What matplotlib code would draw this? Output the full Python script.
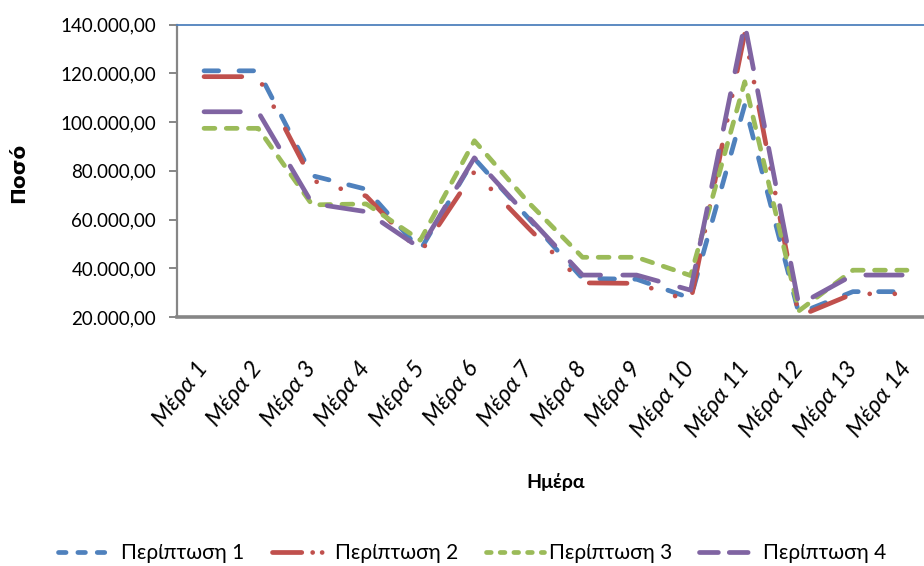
"""Daily amounts for four cases over a two-week period."""

import matplotlib

matplotlib.use("Agg")
import matplotlib.pyplot as plt
from matplotlib.lines import Line2D
from matplotlib.ticker import FixedLocator, FuncFormatter

plt.rcParams["font.family"] = ["Lato", "DejaVu Sans"]

DAYS = ["Μέρα 1", "Μέρα 2", "Μέρα 3", "Μέρα 4", "Μέρα 5", "Μέρα 6", "Μέρα 7",
        "Μέρα 8", "Μέρα 9", "Μέρα 10", "Μέρα 11", "Μέρα 12", "Μέρα 13", "Μέρα 14"]
CASE_1 = [121000, 121000, 78000, 72400, 47500, 85000, 60500,
          35800, 35500, 27700, 107000, 21500, 30400, 30400]
CASE_2 = [118600, 118600, 76000, 69600, 46400, 79600, 56500,
          34000, 33800, 26500, 136300, 20300, 29500, 29500]
CASE_3 = [97400, 97400, 66000, 66400, 51500, 92300, 67000,
          44500, 44500, 37000, 116500, 22500, 39200, 39200]
CASE_4 = [104200, 104200, 66600, 63200, 48200, 85300, 61000,
          37200, 37200, 31000, 140300, 25000, 37200, 37200]
LABELS = ["Περίπτωση 1", "Περίπτωση 2", "Περίπτωση 3", "Περίπτωση 4"]
Y_TICKS = [20000, 40000, 60000, 80000, 100000, 120000, 140000]

COLORS = ["#4F81BD", "#C0504D", "#9BBB59", "#8064A2"]
# dash, long dash dot dot, short dash, long dash (in line widths)
DASHES = [
    (3.1, 4.3),
    (8.0, 5.3, 0.01, 5.3, 0.01, 5.3),
    (2.3, 2.4),
    (7.7, 4.7),
]
# the legend samples are short, so they get a tighter version of each pattern
LEGEND_DASHES = [
    (1.6, 2.5),
    (6.2, 2.3, 0.01, 2.0, 0.01, 2.5),
    (1.0, 1.9),
    (4.0, 2.3),
]


def greek_number(v, _pos):
    s = f"{v:,.2f}"
    return s.replace(",", "X").replace(".", ",").replace("X", ".")


def main():
    W, H = 924, 566
    fig = plt.figure(figsize=(W / 100, H / 100), dpi=100)
    left, right, top, bottom = 177, 934, 24.5, 317
    ax = fig.add_axes([left / W, 1 - bottom / H, (right - left) / W, (bottom - top) / H])

    x = list(range(len(DAYS)))
    for series, color, dashes in zip([CASE_1, CASE_2, CASE_3, CASE_4], COLORS, DASHES):
        ax.plot(x, series, color=color, lw=3.4, dashes=dashes,
                dash_capstyle="round", solid_joinstyle="round", dash_joinstyle="round")

    ax.set_xlim(-0.5, len(DAYS) - 0.5)
    ax.set_ylim(20000, 140000)
    ax.yaxis.set_major_locator(FixedLocator(Y_TICKS))
    ax.yaxis.set_major_formatter(FuncFormatter(greek_number))
    ax.set_xticks(x)
    ax.set_xticklabels(DAYS, rotation=52, ha="right", va="center", rotation_mode="anchor",
                       fontstyle="italic", fontsize=17)
    ax.tick_params(axis="x", length=0, pad=34)
    ax.tick_params(axis="y", length=6, width=1.4, color="#868686", labelsize=13.5, pad=9)

    ax.spines["right"].set_visible(False)
    ax.spines["top"].set_color("#4F81BD")
    ax.spines["top"].set_linewidth(1.3)
    ax.spines["left"].set_color("#868686")
    ax.spines["left"].set_linewidth(1.6)
    ax.spines["bottom"].set_color("#868686")
    ax.spines["bottom"].set_linewidth(2.6)

    fig.text(18.5 / W, 1 - 173 / H, "Ποσό", rotation=90, ha="center", va="center",
             fontsize=14.5, fontweight="bold", family="DejaVu Sans")
    fig.text(556 / W, 1 - 482 / H, "Ημέρα", ha="center", va="center",
             fontsize=14, fontweight="bold")

    handles = [Line2D([], [], color=c, lw=3.4, dashes=d, dash_capstyle="round")
               for c, d in zip(COLORS, LEGEND_DASHES)]
    fig.legend(handles, LABELS, loc="center", bbox_to_anchor=(472 / W, 1 - 553 / H), ncol=4,
               frameon=False, fontsize=15, handlelength=2.8, handletextpad=0.25, columnspacing=1.3)

    fig.savefig("out.png", dpi=100, facecolor="white")
    plt.close(fig)


if __name__ == "__main__":
    main()
